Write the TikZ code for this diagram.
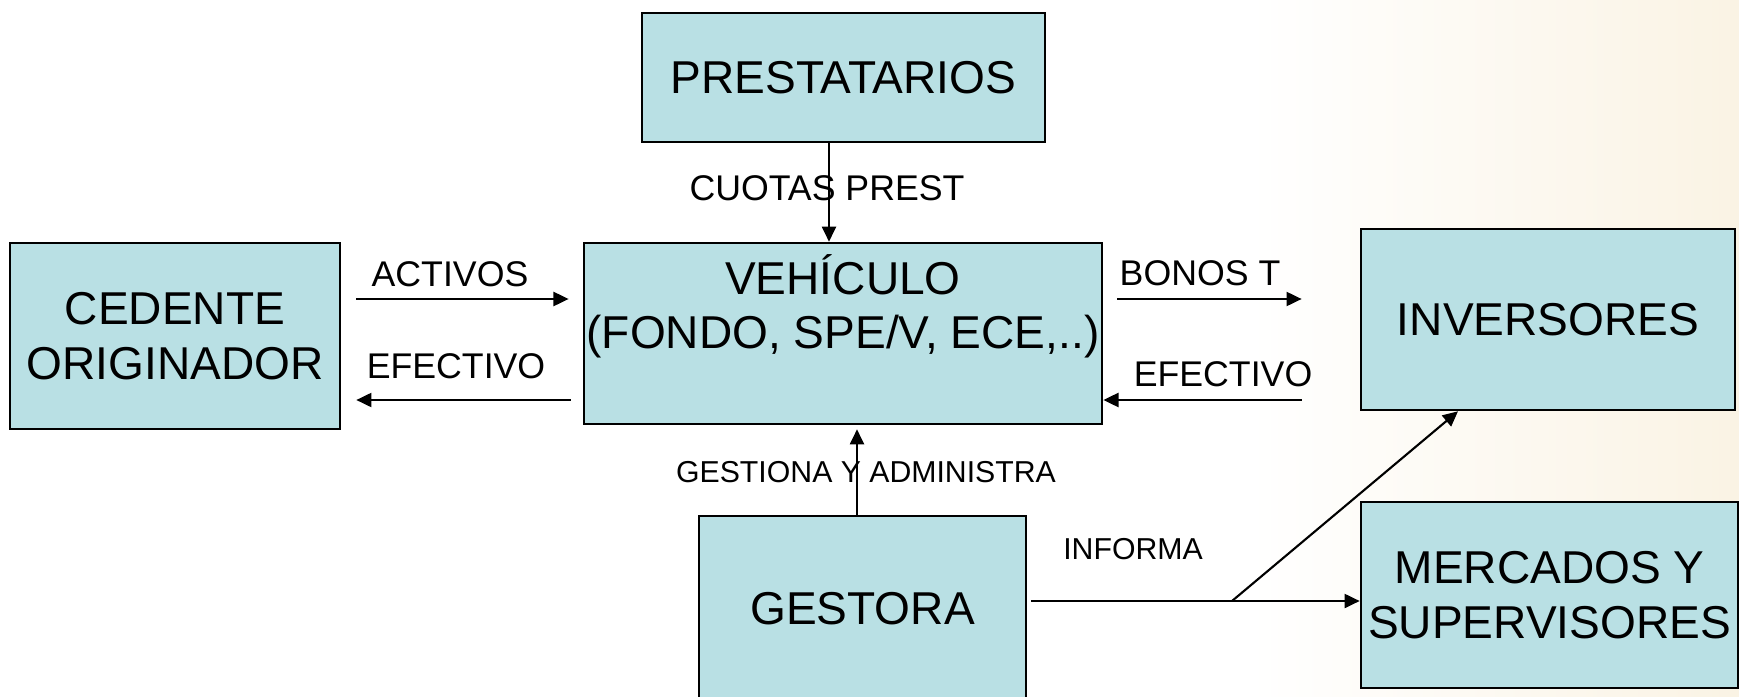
\documentclass[tikz,border=0pt]{standalone}
\usepackage{fontspec}
\setmainfont{Liberation Sans}
\usetikzlibrary{arrows.meta}
\definecolor{boxteal}{RGB}{185,224,228}
\definecolor{bgcream}{RGB}{250,243,228}
\begin{document}
\begin{tikzpicture}[x=0.01cm, y=-0.01cm, >={Triangle[length=4.3pt,width=4pt]},
        box/.style={draw, fill=boxteal, line width=0.7pt, align=center, inner sep=0pt,
            font=\fontsize{13.1}{15.6}\selectfont},
        lbl/.style={inner sep=0pt, font=\fontsize{10.15}{12}\selectfont},
        lblsmall/.style={inner sep=0pt, font=\fontsize{8.6}{10}\selectfont},
        flow/.style={->, line width=0.6pt}]
        \useasboundingbox (0,0) rectangle (1739,697);
        \fill[white] (0,0) rectangle (1739,697);
        \shade[left color=white, right color=bgcream] (1250,0) rectangle (1739,697);
        % cajas
        \node[box, minimum width=4.03cm, minimum height=1.29cm] (presta) at (843.5,77.5) {PRESTATARIOS};
        \node[box, minimum width=5.18cm, minimum height=1.81cm] (vehic) at (843,333.5)
            {VEH\'ICULO\\(FONDO, SPE/V, ECE,..)\\\rule[-2.6pt]{0pt}{2.6pt}};
        \node[box, minimum width=3.30cm, minimum height=1.86cm] (cedente) at (175,336) {CEDENTE\\ORIGINADOR};
        \node[box, minimum width=3.74cm, minimum height=1.81cm] (invers) at (1548,319.5) {INVERSORES};
        \node[box, minimum width=3.77cm, minimum height=1.86cm] (merc) at (1549.5,595) {MERCADOS Y\\SUPERVISORES};
        \node[box, minimum width=3.27cm, minimum height=1.86cm] (gestora) at (862.5,609) {GESTORA};
        % flujos
        \draw[flow] (829,0 |- presta.south) -- (829,0 |- vehic.north);
        \draw[flow, shorten <=0.15cm, shorten >=0.14cm] (cedente.east |- 0,299) -- (vehic.west |- 0,299);
        \draw[flow, shorten <=0.12cm, shorten >=0.15cm] (vehic.west |- 0,400) -- (cedente.east |- 0,400);
        \draw[flow, shorten <=0.14cm, shorten >=0.58cm] (vehic.east |- 0,299) -- (invers.west |- 0,299);
        \draw[flow, shorten <=0.58cm] (invers.west |- 0,400) -- (vehic.east |- 0,400);
        \draw[flow, shorten >=0.04cm] (857,0 |- gestora.north) -- (857,0 |- vehic.south);
        \draw[flow, shorten <=0.04cm] (gestora.east |- 0,601) -- (merc.west |- 0,601);
        \coordinate (ramal) at (1232,601);
        \draw[flow] (ramal) -- (1458,0 |- invers.south);
        % etiquetas
        \node[lbl] (cuotas) at (827,188) {CUOTAS PREST};
        \node[lbl] (activos) at (450,274) {ACTIVOS};
        \node[lbl] (efecced) at (456,366) {EFECTIVO};
        \node[lbl] (bonos) at (1200,273) {BONOS T};
        \node[lbl] (efecinv) at (1223,374) {EFECTIVO};
        \node[lblsmall] (gestiona) at (866,472) {GESTIONA Y ADMINISTRA};
        \node[lblsmall] (informa) at (1133,549) {INFORMA};
    \end{tikzpicture}
\end{document}
